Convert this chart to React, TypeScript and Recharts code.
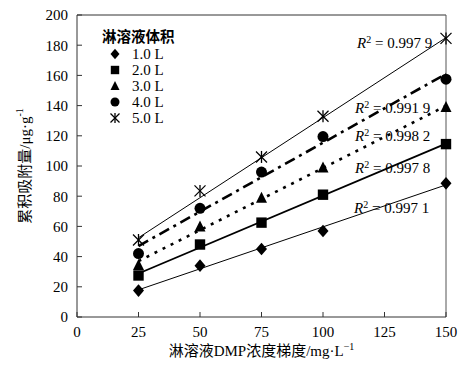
import React from 'react';
import { ComposedChart, Scatter, XAxis, YAxis, ReferenceLine, Label } from 'recharts';

// ---- data ----
const concentrations = [25, 50, 75, 100, 150];
const volumeNames = ['1.0 L', '2.0 L', '3.0 L', '4.0 L', '5.0 L'];
const vol1 = [17.5, 34, 45, 57, 88.5];
const vol2 = [27.5, 48, 62.5, 81, 114.5];
const vol3 = [34.5, 60, 79, 99, 139];
const vol4 = [42, 72, 96, 119.5, 157.5];
const vol5 = [51, 83.5, 106, 133, 184.5];
const trendX = [25, 150];
const trendStart = [18, 28.8, 37, 47, 52.5];
const trendEnd = [87.5, 114.8, 139.8, 161, 185];
const r2Values = ['0.997 1', '0.997 8', '0.998 2', '0.991 9', '0.997 9'];
const xTicks = [0, 25, 50, 75, 100, 125, 150];
const yTicks = [0, 20, 40, 60, 80, 100, 120, 140, 160, 180, 200];
const legendTitle = '淋溶液体积';
const xTitle = '淋溶液DMP浓度梯度/mg·L';
const yTitle = '累积吸附量/μg·g';

const seriesValues = [vol1, vol2, vol3, vol4, vol5];
const markerKinds = ['diamond', 'square', 'triangle', 'circle', 'star'];
const trendStyles = [
  { strokeWidth: 1, dash: undefined },
  { strokeWidth: 1.8, dash: undefined },
  { strokeWidth: 2.6, dash: '3 6' },
  { strokeWidth: 2.6, dash: '11 5 3 5' },
  { strokeWidth: 1, dash: undefined },
];
// label placement (pixels, left / vertical center)
const r2Pos = [
  { left: 354, top: 208 },
  { left: 355, top: 168 },
  { left: 355, top: 136 },
  { left: 355, top: 108 },
  { left: 357, top: 43 },
];

const FONT = 'Times New Roman, Liberation Serif, Tinos, DejaVu Serif, Noto Sans CJK SC, serif';

function Marker({ kind, cx, cy, s = 5.5 }: { kind: string; cx: number; cy: number; s?: number }) {
  if (cx == null || cy == null) return null;
  switch (kind) {
    case 'diamond':
      return <polygon points={`${cx},${cy - s - 0.8} ${cx + s},${cy} ${cx},${cy + s + 0.8} ${cx - s},${cy}`} fill="#000" />;
    case 'square':
      return <rect x={cx - s + 0.3} y={cy - s + 0.3} width={2 * s - 0.6} height={2 * s - 0.6} fill="#000" />;
    case 'triangle':
      return <polygon points={`${cx},${cy - s - 0.5} ${cx + s},${cy + s - 0.5} ${cx - s},${cy + s - 0.5}`} fill="#000" />;
    case 'circle':
      return <circle cx={cx} cy={cy} r={s} fill="#000" />;
    default:
      return (
        <g stroke="#000" strokeWidth={1.3}>
          <line x1={cx - s} y1={cy - s} x2={cx + s} y2={cy + s} />
          <line x1={cx - s} y1={cy + s} x2={cx + s} y2={cy - s} />
          <line x1={cx} y1={cy - s - 0.5} x2={cx} y2={cy + s + 0.5} />
        </g>
      );
  }
}

export default function App() {
  const seriesData = seriesValues.map((vals) => concentrations.map((x, i) => ({ x, y: vals[i] })));
  return (
    <div style={{ position: 'absolute', left: 0, top: 0, width: 473, height: 367, background: '#fff', fontFamily: FONT }}>
      <ComposedChart width={473} height={367} margin={{ top: 15, right: 27, bottom: 0, left: 0 }} style={{ fontFamily: FONT }}>
        <XAxis
          type="number"
          dataKey="x"
          domain={[0, 150]}
          ticks={xTicks}
          interval={0}
          height={50}
          stroke="#333"
          tickSize={-5}
          tickMargin={14}
          tick={{ fill: '#000', fontSize: 15, style: { fontFamily: FONT } }}
        >
          <Label
            content={(props: any) => {
              const vb = props.viewBox || { x: 77, y: 317, width: 369 };
              return (
                <text x={vb.x + vb.width / 2} y={vb.y + 39} textAnchor="middle" fontSize={15} style={{ fontFamily: FONT }} fill="#000">
                  {xTitle}
                  <tspan dy={-6} fontSize={10}>−1</tspan>
                </text>
              );
            }}
          />
        </XAxis>
        <YAxis
          type="number"
          dataKey="y"
          domain={[0, 200]}
          ticks={yTicks}
          interval={0}
          width={77}
          stroke="#333"
          tickSize={-5}
          tickMargin={14}
          tick={{ fill: '#000', fontSize: 15, style: { fontFamily: FONT } }}
        >
          <Label
            content={(props: any) => {
              const vb = props.viewBox || { x: 0, y: 15, width: 77, height: 302 };
              const cx = 25;
              const cy = vb.y + vb.height / 2;
              return (
                <text x={cx} y={cy} transform={`rotate(-90, ${cx}, ${cy})`} textAnchor="middle" dominantBaseline="central" fontSize={15} style={{ fontFamily: FONT }} fill="#000">
                  {yTitle}
                  <tspan dy={-6} fontSize={10}>-1</tspan>
                </text>
              );
            }}
          />
        </YAxis>
        <ReferenceLine y={200} stroke="#333" ifOverflow="visible" />
        <ReferenceLine x={150} stroke="#555" ifOverflow="visible" />
        {trendStart.map((a, i) => (
          <ReferenceLine
            key={'t' + i}
            segment={[{ x: trendX[0], y: a }, { x: trendX[1], y: trendEnd[i] }]}
            stroke="#000"
            strokeWidth={trendStyles[i].strokeWidth}
            strokeDasharray={trendStyles[i].dash}
            ifOverflow="visible"
          />
        ))}
        {seriesData.map((d, i) => (
          <Scatter
            key={'s' + i}
            name={volumeNames[i]}
            data={d}
            isAnimationActive={false}
            shape={(p: any) => <Marker kind={markerKinds[i]} cx={p.cx} cy={p.cy} />}
          />
        ))}
      </ComposedChart>

      {/* legend */}
      <div style={{ position: 'absolute', left: 102, top: 28, fontFamily: FONT }}>
        <div style={{ fontSize: 14.5, fontWeight: 'bold', lineHeight: '18px' }}>{legendTitle}</div>
        {volumeNames.map((n, i) => (
          <div key={n} style={{ display: 'flex', alignItems: 'center', height: 16, fontSize: 15 }}>
            <svg width={26} height={16} style={{ display: 'block' }}>
              <Marker kind={markerKinds[i]} cx={13} cy={8} s={4.5} />
            </svg>
            <span style={{ marginLeft: 4 }}>{n}</span>
          </div>
        ))}
      </div>

      {/* R² annotations */}
      {r2Values.map((v, i) => (
        <div
          key={'r' + i}
          style={{ position: 'absolute', left: r2Pos[i].left, top: r2Pos[i].top - 9, fontSize: 15, lineHeight: '18px', whiteSpace: 'nowrap', fontFamily: FONT }}
        >
          <i>R</i>
          <sup style={{ fontSize: 10, verticalAlign: 'top', lineHeight: '12px' }}>2</sup> = {v}
        </div>
      ))}
    </div>
  );
}
